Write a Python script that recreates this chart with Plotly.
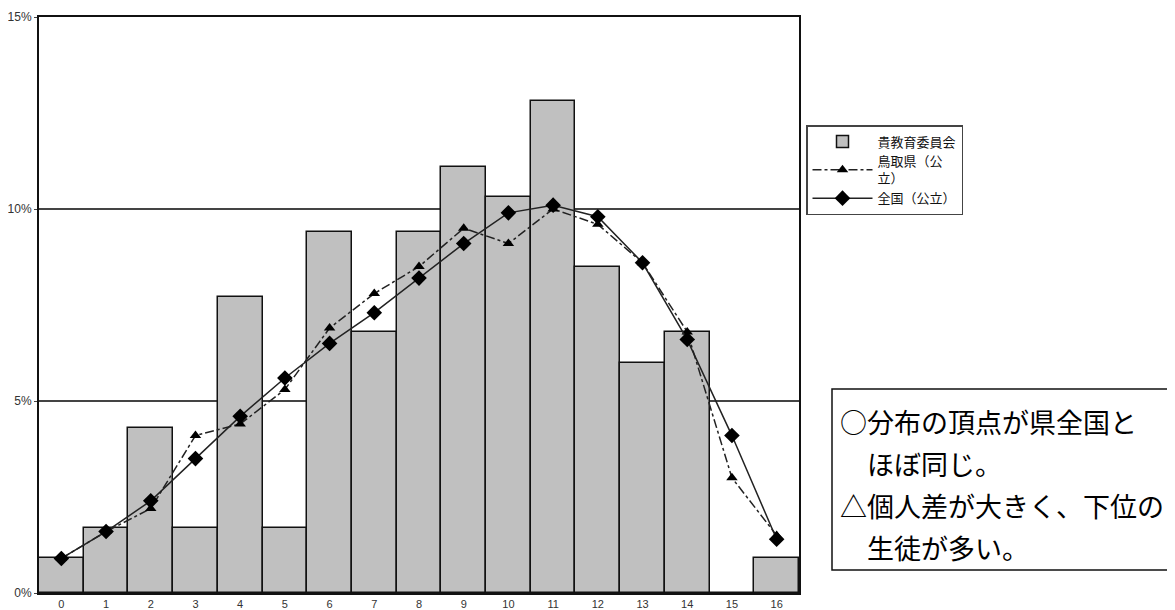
import plotly.graph_objects as go

categories = list(range(17))
tick_labels = [str(c) for c in categories]
board_values = [0.9, 1.7, 4.3, 1.7, 7.7, 1.7, 9.4, 6.8, 9.4, 11.1, 10.3, 12.8, 8.5, 6.0, 6.8, 0.0, 0.9]
tottori_values = [0.9, 1.6, 2.2, 4.1, 4.4, 5.3, 6.9, 7.8, 8.5, 9.5, 9.1, 10.0, 9.6, 8.6, 6.8, 3.0, 1.5]
national_values = [0.9, 1.6, 2.4, 3.5, 4.6, 5.6, 6.5, 7.3, 8.2, 9.1, 9.9, 10.1, 9.8, 8.6, 6.6, 4.1, 1.4]
y_tick_vals = [0, 5, 10, 15]
y_tick_text = ["0%", "5%", "10%", "15%"]
series_names = ["貴教育委員会", "鳥取県（公<br>立）", "全国（公立）"]
note_lines = ["○分布の頂点が県全国と", "　ほぼ同じ。", "△個人差が大きく、下位の", "　生徒が多い。"]

# page has an 8px body margin, so the figure is offset by (8, 8)
OFF = 8
W, H = 1175 - OFF, 610 - OFF
L, R, T, B = 39 - OFF, 1175 - 799, 17 - OFF, 610 - 593
pw, ph = W - L - R, H - T - B

def px(x):
    return (x - OFF - L) / pw

def py(y):
    return (H - B - (y - OFF)) / ph

fig = go.Figure()
fig.add_trace(go.Bar(
    x=categories, y=board_values, name=series_names[0],
    marker=dict(color="#c0c0c0", line=dict(color="#111111", width=1.5)),
))
fig.add_trace(go.Scatter(
    x=categories, y=tottori_values, name=series_names[1], mode="lines+markers",
    line=dict(color="#222222", width=1.5, dash="dashdot"),
    marker=dict(symbol="triangle-up", size=10, color="#000000"),
))
fig.add_trace(go.Scatter(
    x=categories, y=national_values, name=series_names[2], mode="lines+markers",
    line=dict(color="#222222", width=1.5),
    marker=dict(symbol="diamond", size=12, color="#000000"),
))

fig.update_layout(
    width=W, height=H,
    margin=dict(l=L, r=R, t=T, b=B, pad=0),
    paper_bgcolor="white", plot_bgcolor="white",
    bargap=0,
    showlegend=True,
    legend=dict(
        x=px(806), y=py(125), xanchor="left", yanchor="top",
        bordercolor="#444444", borderwidth=1.5, bgcolor="white",
        font=dict(family="Noto Sans CJK JP", size=13, color="#111111"),
        tracegroupgap=2, itemwidth=60,
    ),
    font=dict(family="Liberation Sans", size=11, color="#333333"),
)
fig.update_xaxes(
    range=[-0.5, 16.5], tickvals=categories, ticktext=tick_labels,
    showline=True, linecolor="#111111", linewidth=2, mirror=True,
    showgrid=False, ticks="", tickfont=dict(size=11, color="#333333"),
    automargin=False,
)
fig.update_yaxes(
    range=[0, 15], tickvals=y_tick_vals, ticktext=y_tick_text,
    showline=True, linecolor="#111111", linewidth=2, mirror=True,
    showgrid=True, gridcolor="#444444", gridwidth=1.5,
    ticks="outside", ticklen=3, tickcolor="#444444",
    tickfont=dict(size=12, color="#333333"), zeroline=False,
    automargin=False,
)

fig.add_shape(type="rect", xref="paper", yref="paper",
              x0=px(832), x1=px(1173), y0=py(570), y1=py(389),
              line=dict(color="#111111", width=1.5), fillcolor="white", layer="above")
line_centers = [421, 463, 505, 547]
for text, yc in zip(note_lines, line_centers):
    fig.add_annotation(
        xref="paper", yref="paper", x=px(838), y=py(yc), xanchor="left", yanchor="middle",
        text=text, showarrow=False, align="left",
        font=dict(family="Noto Sans CJK JP", size=27, color="#000000"),
    )

fig.write_html("out.html")
